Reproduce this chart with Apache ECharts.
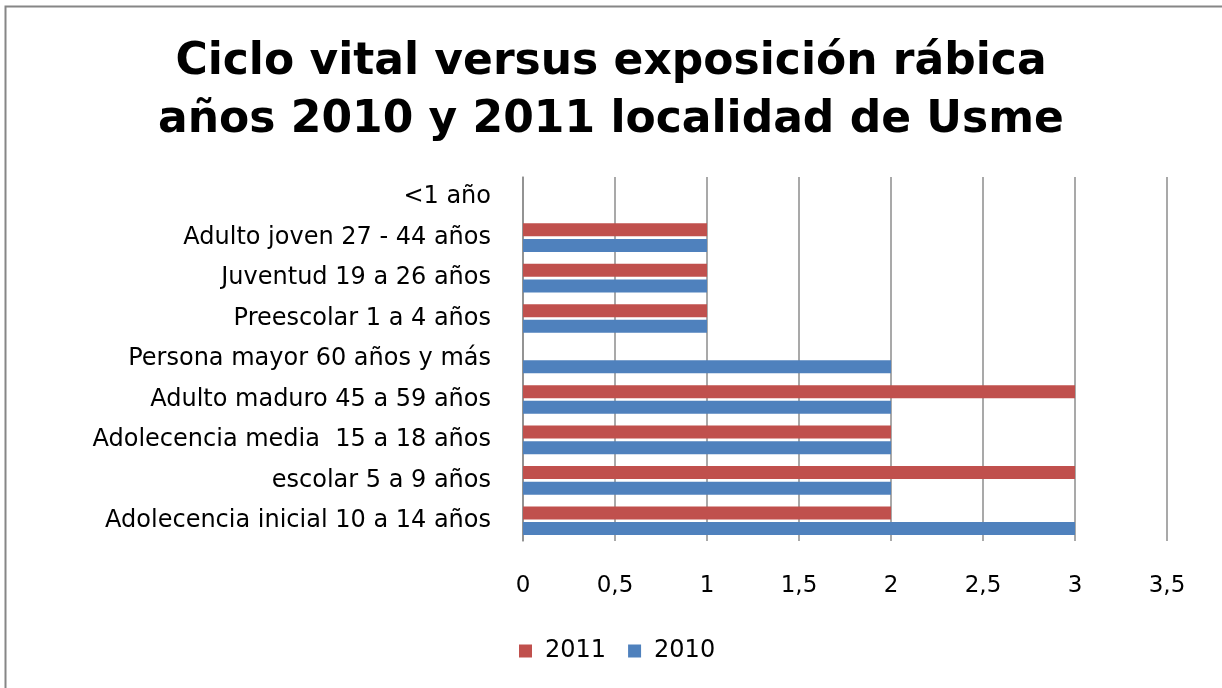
<!DOCTYPE html>
<html>
<head>
<meta charset="utf-8">
<script src="https://cdn.jsdelivr.net/npm/echarts@6/dist/echarts.min.js"></script>
<style>
  html, body { margin: 0; padding: 0; background: #fff; }
  #grafico { width: 1222px; height: 688px; }
</style>
</head>
<body>
<div id="grafico"></div>
<script>
// categorias de abajo hacia arriba, como en el eje
const categorias = [
    "Adolecencia inicial 10 a 14 años",
    "escolar 5 a 9 años",
    "Adolecencia media  15 a 18 años",
    "Adulto maduro 45 a 59 años",
    "Persona mayor 60 años y más",
    "Preescolar 1 a 4 años",
    "Juventud 19 a 26 años",
    "Adulto joven 27 - 44 años",
    "<1 año"
];
const valores2011 = [2, 3, 2, 3, 0, 1, 1, 1, 0];
const valores2010 = [3, 2, 2, 2, 2, 1, 1, 1, 0];

const fuente = "DejaVu Sans";

const grafico = echarts.init(document.getElementById("grafico"));
grafico.setOption({
    backgroundColor: "#fff",
    animation: false,
    title: {
        text: "Ciclo vital versus exposición rábica\naños 2010 y 2011 localidad de Usme",
        left: "center",
        top: 29,
        textStyle: {
            fontFamily: fuente,
            fontSize: 44,
            fontWeight: "bold",
            color: "#000",
            lineHeight: 58
        }
    },
    graphic: [{
        type: "rect",
        shape: {x: 5.5, y: 6.5, width: 1300, height: 800},
        style: {fill: "none", stroke: "#868686", lineWidth: 2},
        silent: true
    }],
    legend: {
        data: ["2011", "2010"],
        bottom: 20,
        left: 514,
        itemWidth: 13,
        itemHeight: 13,
        itemGap: 22,
        icon: "rect",
        textStyle: {fontFamily: fuente, fontSize: 24, color: "#000", padding: [0, 0, 0, 8]}
    },
    grid: {left: 523, right: 55, top: 177, bottom: 147, containLabel: false},
    xAxis: {
        type: "value",
        min: 0,
        max: 3.5,
        interval: 0.5,
        axisLine: {show: false},
        axisTick: {show: false},
        axisLabel: {
            fontFamily: fuente,
            fontSize: 23,
            color: "#000",
            margin: 34,
            formatter: function(v){ return String(v).replace(".", ","); }
        },
        splitLine: {lineStyle: {color: "#8c8c8c", width: 1.5}}
    },
    yAxis: {
        type: "category",
        data: categorias,
        axisLine: {lineStyle: {color: "#8c8c8c", width: 1.5}},
        axisTick: {show: false},
        axisLabel: {fontFamily: fuente, fontSize: 24, color: "#000", margin: 32}
    },
    series: [
        {
            name: "2011",
            type: "bar",
            data: valores2011,
            barWidth: 13,
            barGap: "20%",
            itemStyle: {color: "#C0504D"}
        },
        {
            name: "2010",
            type: "bar",
            data: valores2010,
            barWidth: 13,
            barGap: "20%",
            itemStyle: {color: "#4F81BD"}
        }
    ]
});
</script>
</body>
</html>
